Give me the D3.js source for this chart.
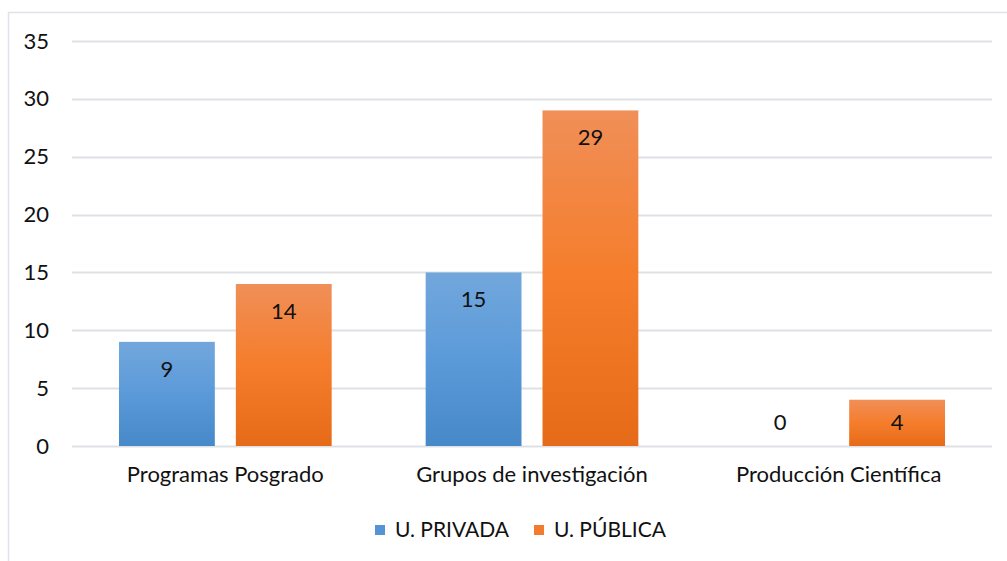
<!DOCTYPE html>
<html>
<head>
<meta charset="utf-8">
<script src="https://cdn.jsdelivr.net/npm/d3@7"></script>
<style>
  body { margin: 0; background: #fff; }
  svg text { font-family: Lato, "Open Sans", sans-serif; fill: #111; }
</style>
</head>
<body>
<svg id="chart" width="1007" height="561"></svg>
<script>
// data
const categories = ['Programas Posgrado', 'Grupos de investigación', 'Producción Científica'];
const seriesNames = ['U. PRIVADA', 'U. PÚBLICA'];
const privada = [9, 15, 0];
const publica = [14, 29, 4];
const yTicks = [0, 5, 10, 15, 20, 25, 30, 35];

const svg = d3.select('svg#chart');
const WIDTH = +svg.attr('width');
const HEIGHT = +svg.attr('height');
const margin = {top: 41, right: 15, bottom: 115, left: 72};
const innerWidth = WIDTH - margin.left - margin.right;
const innerHeight = HEIGHT - margin.top - margin.bottom;
const FS = '22px';

// outer frame
svg.append('rect')
  .attr('x', 8.5).attr('y', 12.5)
  .attr('width', WIDTH).attr('height', HEIGHT)
  .attr('fill', 'none').attr('stroke', '#dfe3e8').attr('stroke-width', 1.5);

// gradients
const defs = svg.append('defs');
const grads = [
  {id: 'gBlue', stops: ['#72a7dc', '#5b9ad9', '#4688c8']},
  {id: 'gOrange', stops: ['#f08f58', '#f57d2b', '#e66b18']}
];
grads.forEach(g => {
  const lg = defs.append('linearGradient').attr('id', g.id)
    .attr('x1', 0).attr('y1', 0).attr('x2', 0).attr('y2', 1);
  g.stops.forEach((c, i) => lg.append('stop').attr('offset', i / 2).attr('stop-color', c));
});
const fills = ['url(#gBlue)', 'url(#gOrange)'];
const legendColors = ['#5593d3', '#f27b2e'];

const g = svg.append('g').attr('transform', `translate(${margin.left},${margin.top})`);

const xScale = d3.scaleBand().domain(categories).range([0, innerWidth]).paddingInner(0).paddingOuter(0);
const xInner = d3.scaleBand().domain(seriesNames)
  .range([47, xScale.bandwidth() - 47]).paddingInner(0.18);
const yScale = d3.scaleLinear().domain([0, 35]).range([innerHeight, 0]);

// grid
g.append('g').selectAll('line').data(yTicks).join('line')
  .attr('x1', 0).attr('x2', innerWidth)
  .attr('y1', d => Math.round(yScale(d)) + 0.5).attr('y2', d => Math.round(yScale(d)) + 0.5)
  .attr('stroke', '#dde1e6').attr('stroke-width', 2);

// y axis labels
const yAxis = d3.axisLeft(yScale).tickValues(yTicks).tickSize(0).tickPadding(23);
g.append('g').call(yAxis)
  .attr('font-family', null).attr('font-size', null)
  .call(s => s.select('.domain').remove())
  .selectAll('text').style('font-size', FS).attr('fill', '#111');

// x axis labels
const xAxis = d3.axisBottom(xScale).tickSize(0).tickPadding(20);
g.append('g').attr('transform', `translate(0,${innerHeight})`).call(xAxis)
  .attr('font-family', null).attr('font-size', null)
  .call(s => s.select('.domain').remove())
  .selectAll('text').style('font-size', FS).attr('fill', '#111');

// bars
const rows = categories.map((c, i) => ({cat: c, vals: [privada[i], publica[i]]}));
const groups = g.selectAll('.grp').data(rows).join('g')
  .attr('class', 'grp')
  .attr('transform', d => `translate(${xScale(d.cat)},0)`);

groups.selectAll('rect').data(d => d.vals.map((v, j) => ({v, s: seriesNames[j], j})))
  .join('rect')
  .attr('x', d => xInner(d.s))
  .attr('width', xInner.bandwidth())
  .attr('y', d => yScale(d.v))
  .attr('height', d => innerHeight - yScale(d.v))
  .attr('fill', d => fills[d.j]);

groups.selectAll('text.val').data(d => d.vals.map((v, j) => ({v, s: seriesNames[j], j})))
  .join('text')
  .attr('class', 'val')
  .attr('x', d => xInner(d.s) + xInner.bandwidth() / 2)
  .attr('y', d => {
    const top = yScale(d.v);
    return (innerHeight - top < 60) ? innerHeight - 24 : top + 27;
  })
  .attr('dy', '0.35em')
  .attr('text-anchor', 'middle')
  .style('font-size', FS)
  .text(d => d.v);

// legend
const legend = svg.append('g').attr('transform', 'translate(375,530)');
const legendX = [0, 159];
seriesNames.forEach((n, i) => {
  const lg = legend.append('g').attr('transform', `translate(${legendX[i]},0)`);
  lg.append('rect').attr('x', 0).attr('y', -5).attr('width', 10).attr('height', 10)
    .attr('fill', legendColors[i]);
  lg.append('text').attr('x', 20).attr('y', 0).attr('dy', '0.35em')
    .style('font-size', '21px').text(n);
});
</script>
</body>
</html>
